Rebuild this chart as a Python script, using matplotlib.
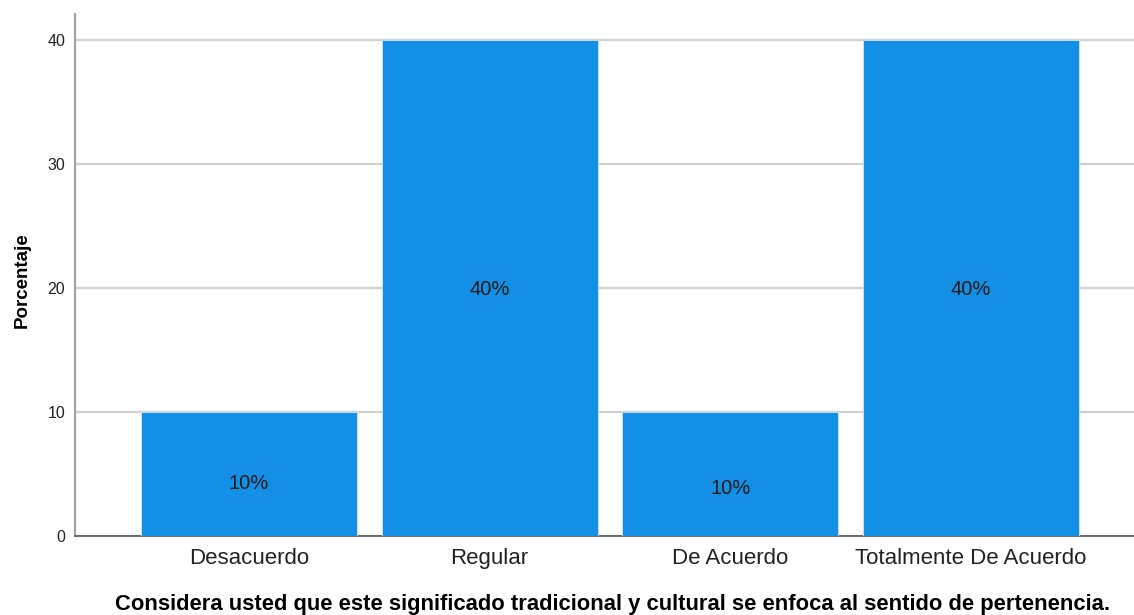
import matplotlib
matplotlib.use("Agg")
import matplotlib.pyplot as plt

categories = ["Desacuerdo", "Regular", "De Acuerdo", "Totalmente De Acuerdo"]
values = [10, 40, 10, 40]
labels = ["10%", "40%", "10%", "40%"]
yticks = [0, 10, 20, 30, 40]
xlabel = "Considera usted que este significado tradicional y cultural se enfoca al sentido de pertenencia."
ylabel = "Porcentaje"

plt.rcParams['font.family'] = ['Liberation Sans', 'DejaVu Sans']

fig = plt.figure(figsize=(11.34, 6.15), dpi=100)
ax = fig.add_axes([0.0661, 0.1285, 0.9339, 0.8487])

x = list(range(len(categories)))
bars = ax.bar(x, values, width=0.897, color="#1390E6", edgecolor="#cfe6f7", linewidth=0.6, zorder=3)

label_y = [4.2, 19.9, 3.8, 19.9]
for xi, ly, lb in zip(x, label_y, labels):
    ax.text(xi, ly, lb, ha="center", va="center", fontsize=14.5, color="#1a1a1a", zorder=4)

ax.set_xlim(-0.723, 3.677)
ax.set_ylim(0, 42.1)
ax.set_yticks(yticks)
ax.set_yticklabels([str(t) for t in yticks], fontsize=11.5, color="#222222")
ax.set_xticks(x)
ax.set_xticklabels(categories, fontsize=16, color="#222222")
ax.tick_params(axis="both", length=0)
ax.tick_params(axis="y", pad=7)
ax.tick_params(axis="x", pad=9)
ax.yaxis.grid(True, color="#d0d0d0", linewidth=1.6, zorder=0)
ax.set_axisbelow(True)
for s in ["top", "right"]:
    ax.spines[s].set_visible(False)
ax.spines["left"].set_color("#a0a0a0")
ax.spines["left"].set_linewidth(1.5)
ax.spines["bottom"].set_color("#555555")
ax.spines["bottom"].set_linewidth(1.2)

ax.set_xlabel(xlabel, fontsize=15.8, fontweight="bold", labelpad=18)
ax.xaxis.label.set_x(0.508)
ax.set_ylabel(ylabel, fontsize=13.5, fontweight="bold", labelpad=12)
ax.yaxis.label.set_y(0.49)

fig.savefig("out.png", dpi=100)
